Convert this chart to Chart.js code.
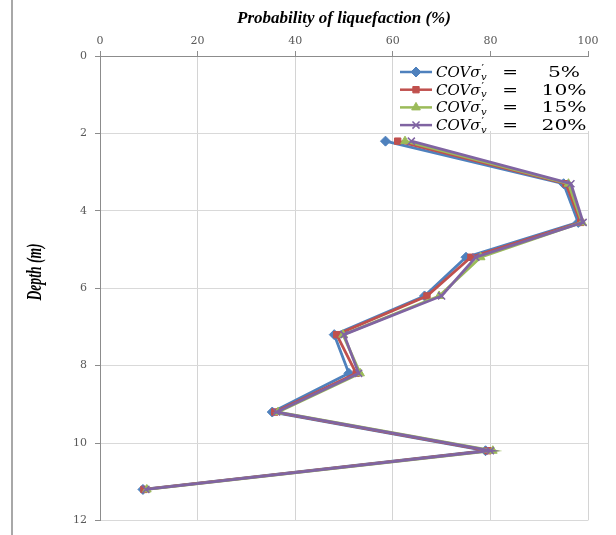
<!DOCTYPE html>
<html>
<head>
<meta charset="utf-8">
<script src="https://cdn.jsdelivr.net/npm/chart.js@4/dist/chart.umd.min.js"></script>
<style>
  html, body { margin: 0; padding: 0; background: #fff; }
  #wrap { position: relative; width: 616px; height: 535px; }
  #edge { position: absolute; left: 11px; top: 0; width: 2px; height: 535px; background: #a8a8a8; }
  canvas { display: block; }
</style>
</head>
<body>
<div id="wrap">
  <canvas id="c" width="616" height="535"></canvas>
  <div id="edge"></div>
</div>
<script>
// Depth of each layer (m)
const depths = [2.2, 3.3, 4.3, 5.2, 6.2, 7.2, 8.2, 9.2, 10.2, 11.2];

// Probability of liquefaction (%) for each coefficient of variation of sigma'_v
const cov5  = [58.5, 95.0, 98.0, 75.0, 66.5, 48.0, 51.0, 35.3, 79.0, 8.8];
const cov10 = [61.0, 95.5, 98.5, 76.0, 67.0, 48.5, 52.5, 35.8, 79.5, 9.0];
const cov15 = [62.5, 96.0, 98.8, 78.0, 69.5, 49.8, 53.3, 36.5, 80.5, 9.6];
const cov20 = [63.8, 96.5, 99.0, 77.0, 70.0, 50.0, 53.0, 36.2, 80.0, 9.4];

const covLabels = ['5%', '10%', '15%', '20%'];
const xTickValues = [0, 20, 40, 60, 80, 100];
const yTickValues = [0, 2, 4, 6, 8, 10, 12];

const colors = ['#4F81BD', '#C0504D', '#9BBB59', '#8064A2'];
const styles = ['rectRot', 'rect', 'triangle', 'crossRot'];
const radii  = [5, 4.5, 5, 5];
const seriesValues = [cov5, cov10, cov15, cov20];

const datasets = seriesValues.map((vals, i) => ({
  label: 'COVσ′v = ' + covLabels[i],
  data: depths.map((d, k) => ({ x: vals[k], y: d })),
  showLine: true,
  borderColor: colors[i],
  backgroundColor: colors[i],
  borderWidth: 2.8,
  pointStyle: styles[i],
  pointRadius: radii[i],
  pointBorderWidth: styles[i] === 'crossRot' ? 1.5 : 1,
  pointBorderColor: colors[i],
  pointBackgroundColor: colors[i],
  order: 4 - i
}));

// Legend in the upper-right corner of the plot, with the math-style label
const mathLegend = {
  id: 'mathLegend',
  afterDatasetsDraw(chart) {
    const ctx = chart.ctx;
    ctx.save();
    ctx.fillStyle = '#ffffff';
    ctx.fillRect(396, 57, 210, 74);
    datasets.forEach((ds, i) => {
      const y = 72 + i * 17.7;
      ctx.strokeStyle = ds.borderColor;
      ctx.lineWidth = 2.5;
      ctx.beginPath();
      ctx.moveTo(400, y);
      ctx.lineTo(432, y);
      ctx.stroke();
      ctx.fillStyle = ds.backgroundColor;
      ctx.strokeStyle = ds.borderColor;
      ctx.lineWidth = ds.pointBorderWidth;
      Chart.helpers.drawPoint(ctx, { pointStyle: ds.pointStyle, radius: ds.pointRadius, rotation: 0, borderWidth: ds.pointBorderWidth }, 416, y);

      ctx.fillStyle = '#000';
      ctx.textBaseline = 'middle';
      ctx.textAlign = 'left';
      ctx.font = 'italic 15px "DejaVu Serif"';
      ctx.fillText('COVσ', 436, y + 1);
      const w = ctx.measureText('COVσ').width;
      ctx.font = '11px "DejaVu Serif"';
      ctx.fillText('′', 436 + w + 1, y - 3);
      ctx.font = 'italic 10px "DejaVu Serif"';
      ctx.fillText('v', 436 + w + 0.5, y + 5);

      ctx.save();
      ctx.translate(510, y + 1);
      ctx.scale(1.25, 1);
      ctx.textAlign = 'center';
      ctx.font = '15px "DejaVu Serif"';
      ctx.fillText('=', 0, 0);
      ctx.restore();

      ctx.save();
      ctx.translate(564, y + 1);
      ctx.scale(1.35, 1);
      ctx.textAlign = 'center';
      ctx.font = '15px "DejaVu Serif"';
      ctx.fillText(covLabels[i], 0, 0);
      ctx.restore();
    });
    ctx.restore();
  }
};

// Vertical axis title in a tall, condensed italic face
const depthTitle = {
  id: 'depthTitle',
  afterDraw(chart) {
    const ctx = chart.ctx;
    ctx.save();
    ctx.translate(35, 272);
    ctx.rotate(-Math.PI / 2);
    ctx.scale(0.85, 1.35);
    ctx.fillStyle = '#000';
    ctx.textAlign = 'center';
    ctx.textBaseline = 'middle';
    ctx.font = 'italic bold 16px "Liberation Serif"';
    ctx.fillText('Depth (m)', 0, 0);
    ctx.restore();
  }
};

new Chart(document.getElementById('c'), {
  type: 'scatter',
  data: { datasets },
  plugins: [mathLegend, depthTitle],
  options: {
    responsive: false,
    animation: false,
    devicePixelRatio: 1,
    layout: { padding: { left: 0, right: 28, top: 0, bottom: 13 } },
    plugins: { legend: { display: false }, tooltip: { enabled: false } },
    scales: {
      x: {
        type: 'linear',
        position: 'top',
        min: 0,
        max: 100,
        afterBuildTicks: s => { s.ticks = xTickValues.map(v => ({ value: v })); },
        afterFit: s => { s.height = 56; },
        ticks: { color: '#595959', font: { family: 'DejaVu Serif', size: 11 }, padding: 3 },
        grid: { color: '#d4d4d4', lineWidth: 1, tickLength: 5, tickColor: '#8c8c8c' },
        border: { color: '#8c8c8c', width: 1 },
        title: {
          display: true,
          text: 'Probability of liquefaction (%)',
          color: '#000',
          font: { family: 'Liberation Serif', size: 17, style: 'italic', weight: 'bold' },
          padding: { top: 8, bottom: 0 }
        }
      },
      y: {
        type: 'linear',
        reverse: true,
        min: 0,
        max: 12,
        afterBuildTicks: s => { s.ticks = yTickValues.map(v => ({ value: v })); },
        afterFit: s => { s.width = 100; },
        ticks: { color: '#595959', font: { family: 'DejaVu Serif', size: 11 }, padding: 8 },
        grid: { color: '#d9d9d9', lineWidth: 1, tickLength: 5, tickColor: '#8c8c8c' },
        border: { color: '#8c8c8c', width: 1 },
        title: { display: false }
      }
    }
  }
});
</script>
</body>
</html>
